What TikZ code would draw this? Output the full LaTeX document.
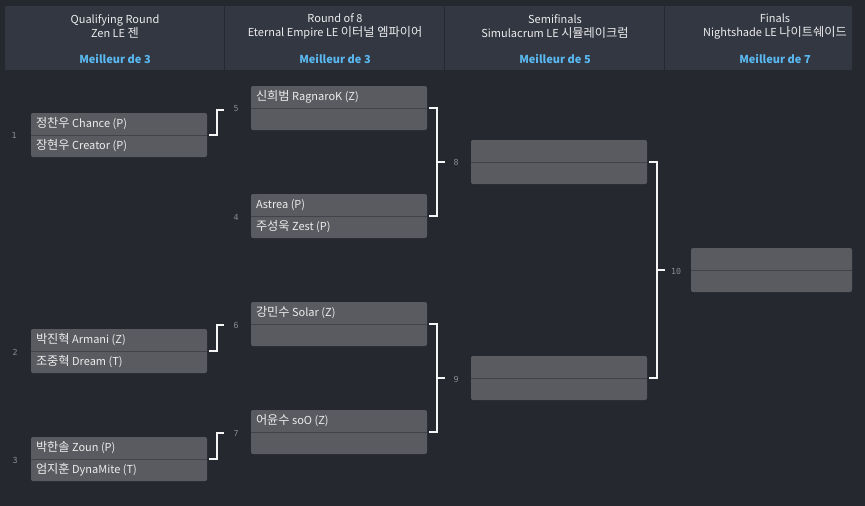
\documentclass[tikz,border=0pt]{standalone}
\usepackage{fontspec}
\setmainfont{Noto Sans CJK KR}
\newfontfamily\numfont{DejaVu Sans Mono}
\newcommand{\ko}[1]{{\fontsize{12.2}{13}\selectfont #1}}
\usetikzlibrary{calc}
\definecolor{bgc}{RGB}{38,40,48}
\definecolor{headc}{RGB}{51,55,66}
\definecolor{boxc}{RGB}{90,91,96}
\definecolor{divc}{RGB}{66,67,72}
\definecolor{bluec}{RGB}{90,184,240}
\definecolor{txtc}{RGB}{236,236,236}
\definecolor{numc}{RGB}{140,140,145}
\definecolor{linec}{RGB}{245,245,245}
\tikzset{
  match/.style={rectangle, rounded corners=2pt, fill=boxc, minimum height=44pt, minimum width=176pt, inner sep=0pt},
  ptext/.style={anchor=west, inner sep=0pt, text=txtc, font=\fontsize{11}{13}\selectfont},
  numlab/.style={inner sep=0pt, text=numc, font=\numfont\fontsize{8.3}{9}\selectfont},
  conn/.style={draw=linec, line width=2pt},
  headcell/.style={fill=headc},
  headtxt/.style={inner sep=0pt, align=center, text=txtc, font=\fontsize{11}{14}\selectfont},
  besttxt/.style={inner sep=0pt, text=bluec, font=\bfseries\fontsize{11}{13}\selectfont},
  divline/.style={draw=divc, line width=1pt}
}
\begin{document}
\begin{tikzpicture}[x=1pt,y=-1pt]
\useasboundingbox (0,0) rectangle (865,506);
\fill[bgc] (0,0) rectangle (865,506);
% header
\fill[headcell] (5,6) rectangle (224,70);
\fill[headcell] (225,6) rectangle (444,70);
\fill[headcell] (445,6) rectangle (664,70);
\fill[headcell] (665,6) rectangle (852,70);
\node[headtxt] (h1) at (115,26.5) {Qualifying Round\\Zen LE \ko{젠}};
\node[headtxt] (h2) at (335,26.5) {Round of 8\\Eternal Empire LE \ko{이터널 엠파이어}};
\node[headtxt] (h3) at (555,26.5) {Semifinals\\Simulacrum LE \ko{시뮬레이크럼}};
\node[headtxt] (h4) at (775,26.5) {Finals\\Nightshade LE \ko{나이트쉐이드}};
\node[besttxt] (b1) at (115,59) {Meilleur de 3};
\node[besttxt] (b2) at (335,59) {Meilleur de 3};
\node[besttxt] (b3) at (555,59) {Meilleur de 5};
\node[besttxt] (b4) at (775,59) {Meilleur de 7};
% matches
\node[match] (m1) at (119,135) {};
\node[match] (m2) at (119,351) {};
\node[match] (m3) at (119,459) {};
\node[match] (m5) at (339,108) {};
\node[match] (m4) at (339,216) {};
\node[match] (m6) at (339,324) {};
\node[match] (m7) at (339,432) {};
\node[match] (m8) at (559,162) {};
\node[match] (m9) at (559,378) {};
\node[match, minimum width=161pt] (m10) at (771.5,270) {};
\foreach \m in {m1,m2,m3,m5,m4,m6,m7,m8,m9,m10}{
  \draw[divline] (\m.west) -- (\m.east);
}
% player texts
\node[ptext] (m1a) at ($(m1.north west)+(5,11)$) {\ko{정찬우} Chance (P)};
\node[ptext] (m1b) at ($(m1.north west)+(5,33)$) {\ko{장현우} Creator (P)};
\node[ptext] (m2a) at ($(m2.north west)+(5,11)$) {\ko{박진혁} Armani (Z)};
\node[ptext] (m2b) at ($(m2.north west)+(5,33)$) {\ko{조중혁} Dream (T)};
\node[ptext] (m3a) at ($(m3.north west)+(5,11)$) {\ko{박한솔} Zoun (P)};
\node[ptext] (m3b) at ($(m3.north west)+(5,33)$) {\ko{엄지훈} DynaMite (T)};
\node[ptext] (m5a) at ($(m5.north west)+(5,11)$) {\ko{신희범} RagnaroK (Z)};
\node[ptext] (m4a) at ($(m4.north west)+(5,11)$) {Astrea (P)};
\node[ptext] (m4b) at ($(m4.north west)+(5,33)$) {\ko{주성욱} Zest (P)};
\node[ptext] (m6a) at ($(m6.north west)+(5,11)$) {\ko{강민수} Solar (Z)};
\node[ptext] (m7a) at ($(m7.north west)+(5,11)$) {\ko{어윤수} soO (Z)};
% match numbers
\node[numlab] (n1) at (14,135) {1};
\node[numlab] (n2) at (15,352) {2};
\node[numlab] (n3) at (15,460) {3};
\node[numlab] (n5) at (236,109) {5};
\node[numlab] (n4) at (236,217) {4};
\node[numlab] (n6) at (236,325) {6};
\node[numlab] (n7) at (236,433) {7};
\node[numlab] (n8) at (456,162) {8};
\node[numlab] (n9) at (456,379) {9};
\node[numlab] (n10) at (676,271) {10};
% connectors
\coordinate (c1) at (224,110);
\coordinate (c2) at (224,325);
\coordinate (c3) at (224,433);
\coordinate (c8) at (445,162);
\coordinate (c9) at (445,378);
\coordinate (c10) at (665,270);
\draw[conn] ([xshift=2pt]m1.east) -- ++(8,0) |- (c1);
\draw[conn] ([xshift=2pt]m2.east) -- ++(8,0) |- (c2);
\draw[conn] ([xshift=2pt]m3.east) -- ++(8,0) |- (c3);
\draw[conn] ([xshift=2pt]m5.east) -| ($(m4.east)+(10,0)$) -- ([xshift=2pt]m4.east);
\draw[conn] (c8) -- ++(-8,0);
\draw[conn] ([xshift=2pt]m6.east) -| ($(m7.east)+(10,0)$) -- ([xshift=2pt]m7.east);
\draw[conn] (c9) -- ++(-8,0);
\draw[conn] ([xshift=2pt]m8.east) -| ($(m9.east)+(10,0)$) -- ([xshift=2pt]m9.east);
\draw[conn] (c10) -- ++(-8,0);
\end{tikzpicture}
\end{document}
